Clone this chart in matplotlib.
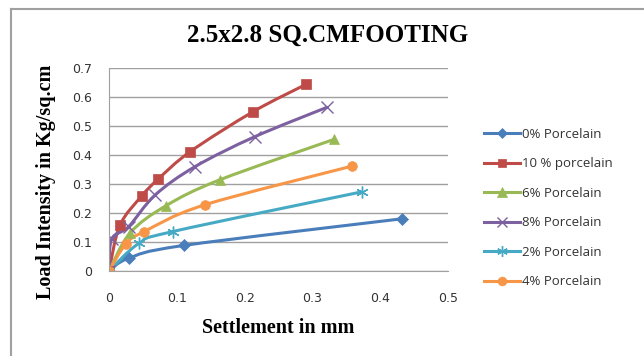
import numpy as np
import matplotlib
matplotlib.use("Agg")
import matplotlib.pyplot as plt
from matplotlib.path import Path
from matplotlib.patches import PathPatch
from matplotlib.lines import Line2D

#========= Data ==================================
labels = ["0% Porcelain", "10 % porcelain", "6% Porcelain",
          "8% Porcelain", "2% Porcelain", "4% Porcelain"]

x_p0 = [0, 0.029, 0.110, 0.432]
y_p0 = [0, 0.044, 0.088, 0.180]

x_p10 = [0, 0.016, 0.048, 0.073, 0.120, 0.213, 0.291]
y_p10 = [0, 0.157, 0.258, 0.318, 0.412, 0.550, 0.644]

x_p6 = [0, 0.031, 0.084, 0.163, 0.332]
y_p6 = [0, 0.131, 0.225, 0.314, 0.454]

x_p8 = [0, 0.004, 0.029, 0.068, 0.127, 0.215, 0.321]
y_p8 = [0, 0.110, 0.153, 0.262, 0.360, 0.463, 0.564]

x_p2 = [0, 0.044, 0.094, 0.373]
y_p2 = [0, 0.095, 0.136, 0.273]

x_p4 = [0, 0.025, 0.052, 0.141, 0.359]
y_p4 = [0, 0.094, 0.136, 0.228, 0.362]

xs = [x_p0, x_p10, x_p6, x_p8, x_p2, x_p4]
ys = [y_p0, y_p10, y_p6, y_p8, y_p2, y_p4]

#========= Styles ===========
colors = ["#4A7EBB", "#BE4B48", "#98B954", "#7D60A0", "#46AAC5", "#F79646"]
markers = ["D", "s", "^", "x", (6, 2, 0), "o"]
msizes = [6, 7, 7.5, 8, 8.5, 7]
thin = ("x", (6, 2, 0))


def smooth_path(x, y, tension=1.0 / 6):
    # Excel-style smoothed line: cubic bezier through the points
    p = np.column_stack([x, y]).astype(float)
    verts = [p[0]]
    codes = [Path.MOVETO]
    n = len(p)
    for i in range(n - 1):
        p0 = p[i - 1] if i > 0 else p[i]
        p1 = p[i]
        p2 = p[i + 1]
        p3 = p[i + 2] if i + 2 < n else p[i + 1]
        c1 = p1 + (p2 - p0) * tension
        c2 = p2 - (p3 - p1) * tension
        verts += [c1, c2, p2]
        codes += [Path.CURVE4] * 3
    return Path(verts, codes)


fig = plt.figure(figsize=(6.44, 3.56), dpi=100)
ax = fig.add_axes([109 / 644, 1 - 271 / 356, 339 / 644, 203 / 356])

for x, y, c, m, ms, lab in zip(xs, ys, colors, markers, msizes, labels):
    ax.add_patch(PathPatch(smooth_path(x, y), facecolor="none", edgecolor=c,
                           lw=2.2, capstyle="round", joinstyle="round"))
    mew = 1.0 if m in thin else 0.5
    ax.plot(x, y, linestyle="none", marker=m, markersize=ms, color=c,
            markeredgecolor=c, markeredgewidth=mew, label=lab)

ax.set_xlim(0, 0.5)
ax.set_ylim(0, 0.7)
ax.set_xticks(np.arange(0, 0.51, 0.1))
ax.set_xticklabels(["0", "0.1", "0.2", "0.3", "0.4", "0.5"])
ax.set_yticks(np.arange(0, 0.71, 0.1))
ax.set_yticklabels(["0", "0.1", "0.2", "0.3", "0.4", "0.5", "0.6", "0.7"])
ax.yaxis.grid(True, color="#A0A0A0", lw=1)
ax.set_axisbelow(True)
for s in ["top", "right"]:
    ax.spines[s].set_visible(False)
ax.spines["left"].set_color("#A0A0A0")
ax.spines["bottom"].set_color("#A0A0A0")
ax.tick_params(axis="y", length=0, labelsize=9, colors="#333333", pad=12)
ax.tick_params(axis="x", length=0, labelsize=9, colors="#333333", pad=15)

# line handles in legend
handles = [Line2D([0], [0], color=c, lw=2.2, marker=m, markersize=ms * 0.9,
                  markeredgecolor=c,
                  markeredgewidth=(1.0 if m in thin else 0.5))
           for c, m, ms in zip(colors, markers, msizes)]
leg = fig.legend(handles, labels, loc="upper left",
                 bbox_to_anchor=(484 / 644, 1 - 128 / 356), frameon=False,
                 prop={"family": "Open Sans", "size": 9.5},
                 handlelength=2.7, handletextpad=0.15,
                 labelspacing=1.25, borderaxespad=0, borderpad=0)
for t in leg.get_texts():
    t.set_color("#333333")

fig.text(328 / 644, 1 - 35 / 356, "2.5x2.8 SQ.CMFOOTING", ha="center",
         va="center", family="Liberation Serif", weight="bold", fontsize=18)
fig.text(278 / 644, 1 - 328 / 356, "Settlement in mm", ha="center",
         va="center", family="Liberation Serif", weight="bold", fontsize=14.5)
fig.text(46 / 644, 1 - 182 / 356, "Load Intensity in Kg/sq.cm", ha="center",
         va="center", rotation=90, family="Liberation Serif", weight="bold",
         fontsize=14.5)

# outer chart frame (left and top edges visible)
fig.add_artist(Line2D([11 / 644, 11 / 644], [0, 1 - 9 / 356],
                      transform=fig.transFigure, color="#A0A0A0", lw=1.5))
fig.add_artist(Line2D([11 / 644, 1], [1 - 9 / 356, 1 - 9 / 356],
                      transform=fig.transFigure, color="#A0A0A0", lw=1.5))

fig.savefig("out.png", dpi=100)
